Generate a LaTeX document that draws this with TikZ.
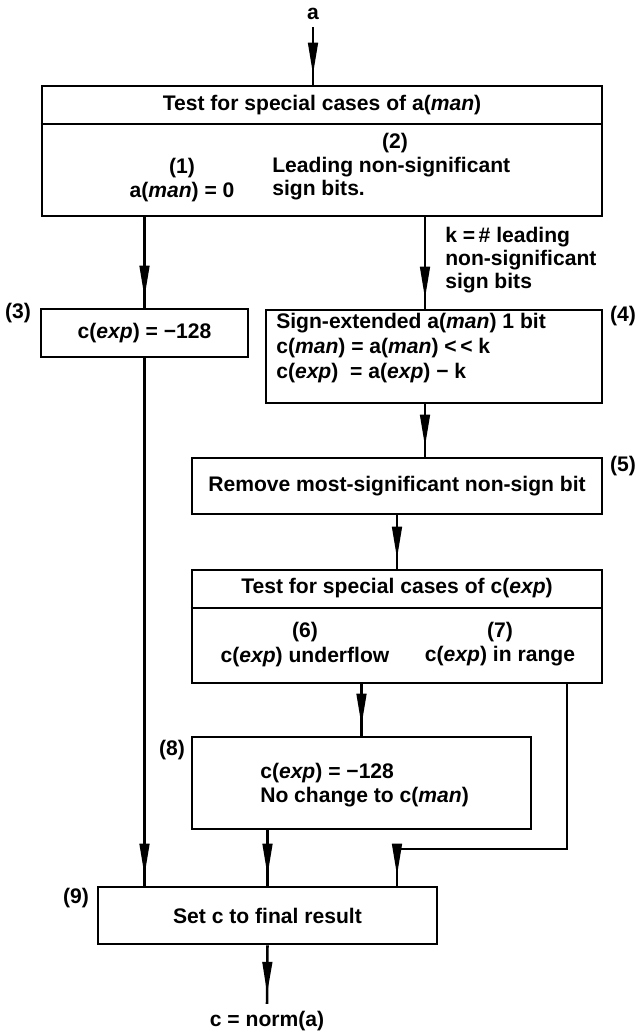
\documentclass[tikz,border=0pt]{standalone}
\usepackage{fontspec}
\setmainfont{Liberation Sans}
\usetikzlibrary{arrows.meta,decorations.markings}
\tikzset{
  blk/.style={draw,line width=1.8pt,inner sep=0pt},
  lbl/.style={inner sep=0pt,align=left},
  term/.style={inner sep=5pt},
  flow/.style={line width=1.8pt,postaction={decorate},
    decoration={markings,mark=at position -0.25cm with {\arrow{Triangle[length=8mm,width=2.4mm]}}}}
}
\begin{document}
\begin{tikzpicture}[x=0.025cm,y=-0.025cm,font=\fontsize{15}{18}\selectfont\bfseries]
  \useasboundingbox (0,0) rectangle (640,1034);
  \coordinate (dA) at (0,124);
  \coordinate (dC) at (0,608);
  \coordinate (xr) at (425,0);
  \coordinate (xc) at (567,0);
  \coordinate (xd) at (397,0);
  \coordinate (yj) at (0,849);

  \node[term] (in) at (313,14) {a};
  \node[blk,minimum width=14cm,minimum height=3.25cm] (testA) at (322,151) {};
  \draw[line width=1.8pt] (testA.west |- dA) -- (testA.east |- dA);
  \node[lbl] (titleA) at (322,105) {Test for special cases of a(\textit{man})};
  \node[lbl] (n1) at (182,168) {(1)};
  \node[lbl] (zero) at (182,192) {a(\textit{man})\ =\ 0};
  \node[lbl] (n2) at (395,143) {(2)};
  \node[lbl,anchor=west] (lead) at (272,167) {Leading non-significant};
  \node[lbl,anchor=west] (sbits) at (272,190) {sign bits.};

  \node[blk,minimum width=5.175cm,minimum height=1.2cm] (box3) at (144.5,333) {c(\textit{exp})\ =\ −128};
  \node[lbl] (n3) at (18,313) {(3)};
  \node[lbl,anchor=west,font=\fontsize{15}{16.3}\selectfont\bfseries] (kinfo) at (445,260)
    {k =\,\# leading\\non-significant\\sign bits};

  \node[blk,minimum width=8.4cm,minimum height=2.325cm] (box4) at (434,356.5) {};
  \node[lbl,anchor=west,font=\fontsize{15}{18}\selectfont\bfseries] (text4) at (276,348)
    {Sign-extended a(\textit{man}) 1 bit\\c(\textit{man})\ =\ a(\textit{man})\ <{}\,<\ k\\c(\textit{exp})\ \ =\ a(\textit{exp})\ −\ k};
  \node[lbl] (n4) at (623,316) {(4)};

  \node[blk,minimum width=10.25cm,minimum height=1.4cm] (box5) at (397,486) {Remove most-significant non-sign bit};
  \node[lbl] (n5) at (623,466) {(5)};

  \node[blk,minimum width=10.25cm,minimum height=2.825cm] (testC) at (397,626.5) {};
  \draw[line width=1.8pt] (testC.west |- dC) -- (testC.east |- dC);
  \node[lbl] (titleC) at (397,588) {Test for special cases of c(\textit{exp})};
  \node[lbl] (n6) at (305,632) {(6)};
  \node[lbl] (under) at (305,657) {c(\textit{exp}) underflow};
  \node[lbl] (n7) at (500,632) {(7)};
  \node[lbl] (inrange) at (500,656) {c(\textit{exp}) in range};

  \node[blk,minimum width=8.475cm,minimum height=2.3cm] (box8) at (361.5,783) {};
  \node[lbl,anchor=west,font=\fontsize{15}{17}\selectfont\bfseries] (text8) at (260,785)
    {c(\textit{exp})\ =\ −128\\No change to c(\textit{man})};
  \node[lbl] (n8) at (172,750) {(8)};

  \node[blk,minimum width=8.475cm,minimum height=1.425cm] (box9) at (267.5,915.5) {Set c to final result};
  \node[lbl] (n9) at (76,898) {(9)};
  \node[term] (out) at (267,1021) {c\ =\ norm(a)};

  \draw[flow] (in.south) -- (testA.north -| in.south);
  \draw[flow] (box3.north |- testA.south) -- (box3.north);
  \draw[flow] (testA.south -| xr) -- (box4.north -| xr);
  \draw[flow] (box4.south -| xr) -- (box5.north -| xr);
  \draw[flow] (box5.south) -- (testC.north -| box5.south);
  \draw[flow] (box8.north |- testC.south) -- (box8.north);
  \draw[flow] (box3.south) -- (box3.south |- box9.north);
  \draw[flow] (box9.north |- box8.south) -- (box9.north);
  \draw[flow] (testC.south -| xc) |- (yj -| xd) -- (box9.north -| xd);
  \draw[flow] (box9.south) -- (out.north);
\end{tikzpicture}
\end{document}
